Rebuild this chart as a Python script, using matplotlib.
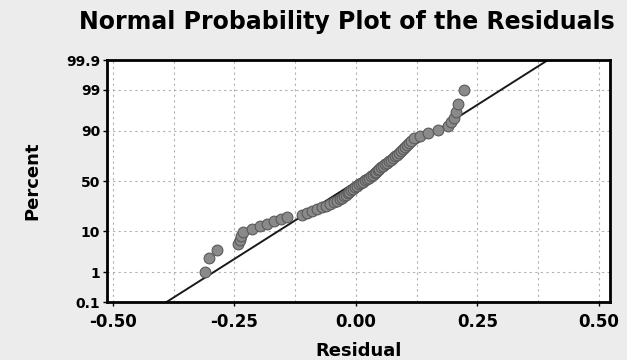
import matplotlib
matplotlib.use("Agg")
import matplotlib.pyplot as plt
from statistics import NormalDist

# residuals, sorted
residuals = [-0.311, -0.302, -0.286, -0.243, -0.239, -0.237, -0.233, -0.214, -0.198, -0.183,
             -0.169, -0.154, -0.142, -0.111, -0.101, -0.091, -0.080, -0.070, -0.062, -0.053,
             -0.045, -0.039, -0.033, -0.029, -0.025, -0.021, -0.016, -0.014, -0.010, -0.006,
             -0.002, 0.002, 0.006, 0.010, 0.014, 0.019, 0.023, 0.027, 0.031, 0.035,
             0.039, 0.041, 0.045, 0.047, 0.051, 0.056, 0.060, 0.064, 0.068, 0.072,
             0.076, 0.080, 0.084, 0.088, 0.093, 0.097, 0.101, 0.105, 0.109, 0.113,
             0.119, 0.132, 0.148, 0.169, 0.189, 0.195, 0.202, 0.206, 0.210, 0.222]

# fitted normal line (mean, st dev) as drawn
fit_mean = 0.003
fit_sd = 0.127

x_ticks = [-0.50, -0.25, 0.00, 0.25, 0.50]
x_grid = [-0.5, -0.375, -0.25, -0.125, 0.0, 0.125, 0.25, 0.375, 0.5]
pct_ticks = [0.1, 1, 10, 50, 90, 99, 99.9]
pct_labels = ["0.1", "1", "10", "50", "90", "99", "99.9"]
pct_grid = [1, 10, 50, 90, 99]

nd = NormalDist()
def z(pct):
    return nd.inv_cdf(pct / 100.0)

plt.rcParams['axes.unicode_minus'] = False
plt.rcParams['font.family'] = 'DejaVu Sans'

fig = plt.figure(figsize=(6.27, 3.6), dpi=100, facecolor='#ececec')
ax = fig.add_axes([107/627, 1 - 302/360, (610 - 107)/627, (302 - 60)/360])
ax.set_facecolor('white')

# median ranks -> normal scores
n = len(residuals)
zs = [nd.inv_cdf((i + 1 - 0.3) / (n + 0.4)) for i in range(n)]

for g in x_grid:
    ax.axvline(g, color='#b0b0b0', lw=0.8, ls=(0, (2, 3)), zorder=1)
for g in pct_grid:
    ax.axhline(z(g), color='#b0b0b0', lw=0.8, ls=(0, (2, 3)), zorder=1)

zlo, zhi = z(0.1), z(99.9)
ax.plot([fit_mean + fit_sd*zlo, fit_mean + fit_sd*zhi], [zlo, zhi],
        color='#1a1a1a', lw=1.4, zorder=2)

ax.scatter(residuals, zs, s=60, facecolor='#8a8a8a', edgecolor='#5a5a5a',
           linewidth=0.8, zorder=3)

ax.set_xlim(-0.512, 0.523)
ax.set_ylim(zlo, zhi)
ax.set_xticks(x_ticks)
ax.set_xticklabels(["%.2f" % v for v in x_ticks], fontsize=12, fontweight='bold')
ax.set_yticks([z(p) for p in pct_ticks])
ax.set_yticklabels(pct_labels, fontsize=10, fontweight='bold')
ax.tick_params(axis='x', length=3, width=1, pad=5)
ax.tick_params(axis='y', length=3, width=1, pad=2)
for s in ax.spines.values():
    s.set_linewidth(2)

ax.set_xlabel("Residual", fontsize=13, fontweight='bold', labelpad=8)
ax.set_ylabel("Percent", fontsize=13, fontweight='bold', labelpad=18)
fig.text(347/627, 0.938, "Normal Probability Plot of the Residuals",
         fontsize=17, fontweight='bold', ha='center', va='center')

fig.savefig("out.png", dpi=100, facecolor=fig.get_facecolor())
